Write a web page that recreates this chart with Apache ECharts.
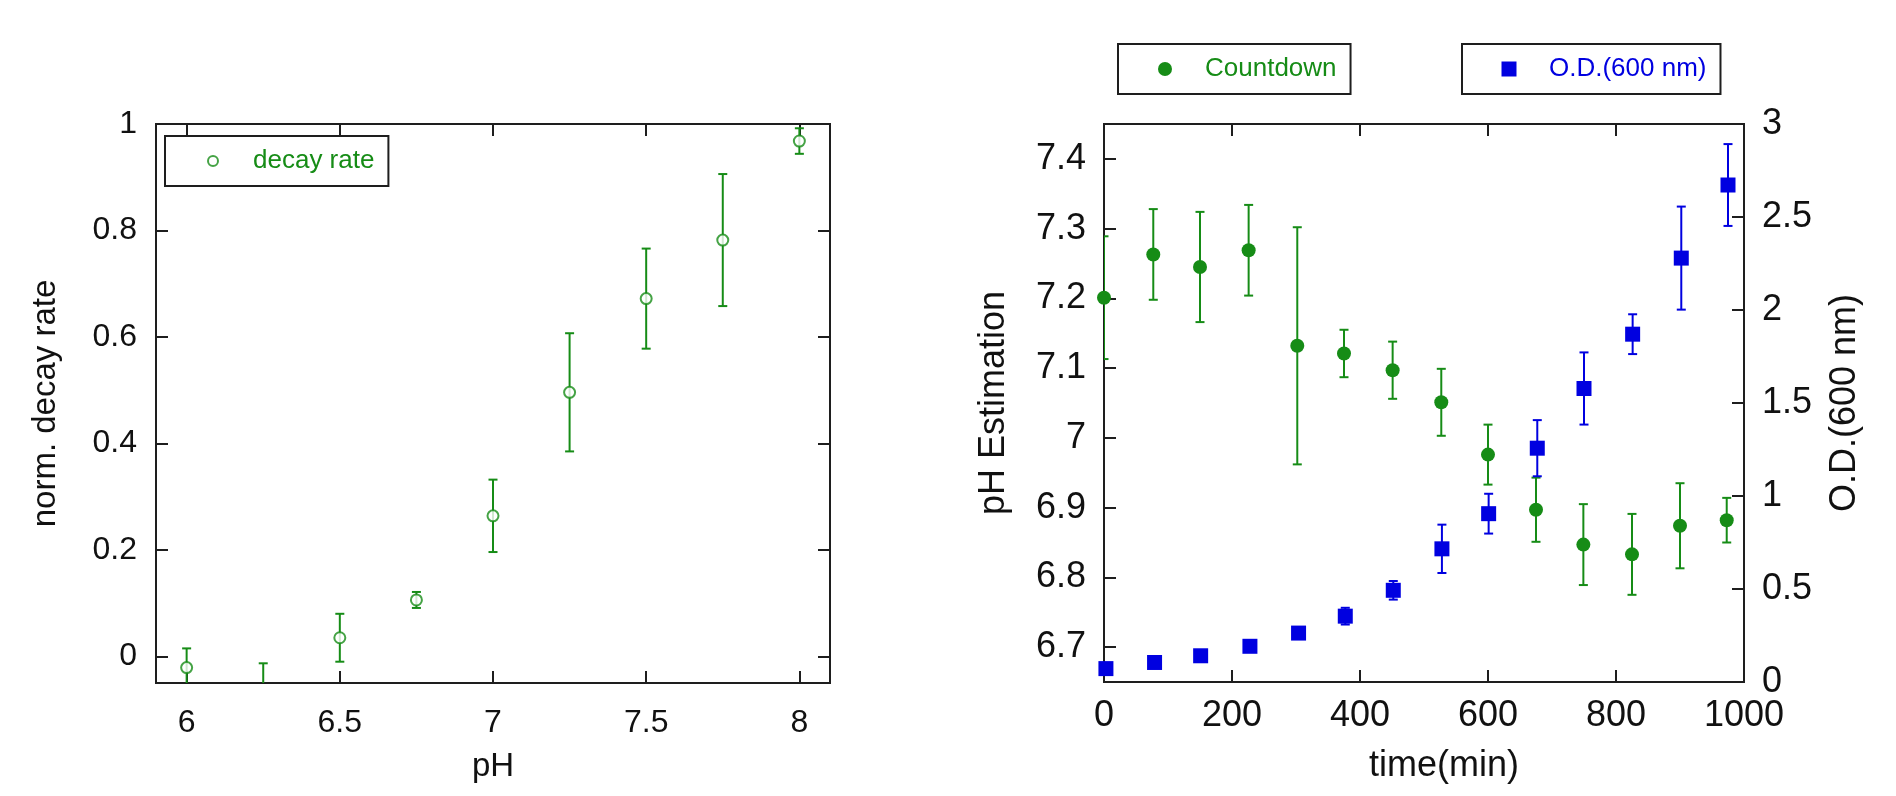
<!DOCTYPE html>
<html><head><meta charset="utf-8">
<script src="https://cdn.jsdelivr.net/npm/echarts@6/dist/echarts.min.js"></script>
<style>html,body{margin:0;padding:0;background:#fff}#c{width:1896px;height:796px}</style>
</head><body><div id="c"></div>
<script>
// ---- data ----
const phValues = [6, 6.25, 6.5, 6.75, 7, 7.25, 7.5, 7.75, 8];
const decayRate = [-0.021, -0.065, 0.035, 0.106, 0.264, 0.496, 0.672, 0.782, 0.968];
const decayErr = [0.036, 0.052, 0.045, 0.015, 0.068, 0.111, 0.094, 0.124, 0.024];

const countdownTime = [0, 77, 150, 226, 302, 375, 451, 527, 600, 675, 749, 825, 900, 973];
const countdownPH = [7.201, 7.263, 7.245, 7.269, 7.132, 7.121, 7.097, 7.051, 6.976, 6.897, 6.847, 6.833, 6.874, 6.882];
const countdownErr = [0.088, 0.065, 0.079, 0.065, 0.170, 0.034, 0.041, 0.048, 0.043, 0.046, 0.058, 0.058, 0.061, 0.032];

const odTime = [3, 79, 151, 228, 304, 377, 452, 528, 601, 677, 750, 826, 902, 975];
const odValue = [0.072, 0.105, 0.141, 0.192, 0.263, 0.354, 0.493, 0.716, 0.905, 1.257, 1.578, 1.870, 2.279, 2.672];
const odErr = [0.025, 0.025, 0.03, 0.03, 0.03, 0.045, 0.05, 0.13, 0.107, 0.151, 0.194, 0.107, 0.277, 0.22];

const phTicks = [6, 6.5, 7, 7.5, 8];
const decayTicks = [0, 0.2, 0.4, 0.6, 0.8, 1];
const timeTicks = [0, 200, 400, 600, 800, 1000];
const phEstTicks = [6.7, 6.8, 6.9, 7, 7.1, 7.2, 7.3, 7.4];
const odTicks = [0, 0.5, 1, 1.5, 2, 2.5, 3];

// ---- styles ----
const GREEN = '#168c16';
const BLUE = '#0000e0';
const INK = '#1e1e1e';
const FONT = '"Liberation Sans", Arial, sans-serif';
// legend icons: invisible move-to corners span the full 70px icon box so the mark sits centred in it
const OPEN_CIRCLE_ICON = 'path://M0,0M70,12M35,1A5,5,0,1,1,35,11A5,5,0,1,1,35,1Z';
const DOT_ICON = 'path://M0,0M70,14M35,0A7,7,0,1,1,35,14A7,7,0,1,1,35,0Z';
const SQUARE_ICON = 'path://M0,0M70,15M27.5,0H42.5V15H27.5Z';

function errorSeries(name, xs, ys, es, xi, yi, color) {
  return {
    type: 'custom', name: name, xAxisIndex: xi, yAxisIndex: yi, clip: true,
    itemStyle: { color: color }, silent: true,
    encode: { x: 0, y: 1 },
    data: xs.map((x, i) => [x, ys[i], es[i]]),
    renderItem: function (params, api) {
      const x = api.value(0), y = api.value(1), e = api.value(2);
      const top = api.coord([x, y + e]);
      const bot = api.coord([x, y - e]);
      const cap = 4.5;
      const style = { stroke: color, lineWidth: 2, fill: null };
      return { type: 'group', children: [
        { type: 'line', shape: { x1: top[0], y1: top[1], x2: bot[0], y2: bot[1] }, style: style },
        { type: 'line', shape: { x1: top[0] - cap, y1: top[1], x2: top[0] + cap, y2: top[1] }, style: style },
        { type: 'line', shape: { x1: bot[0] - cap, y1: bot[1], x2: bot[0] + cap, y2: bot[1] }, style: style }
      ]};
    }
  };
}

function tickStyle(vals) {
  return { show: true, inside: true, length: 12, lineStyle: { color: INK, width: 2 }, customValues: vals };
}
function labelStyle(vals, size, margin) {
  return { show: true, customValues: vals, fontSize: size, color: '#111', fontFamily: FONT, margin: margin,
           formatter: function (v) { return String(v); } };
}
const noLine = { show: false, onZero: false };
function legendBox(name, icon, left, top, h, color, itemStyle) {
  return { data: [{ name: name, icon: icon, itemStyle: itemStyle }], left: left, top: top,
    padding: [12, 14, 12, 12], itemWidth: 70, itemHeight: h, itemGap: 0, symbolKeepAspect: false,
    borderColor: INK, borderWidth: 2, borderRadius: 0, selectedMode: false,
    textStyle: { fontSize: 26, color: color, fontFamily: FONT } };
}

const chart = echarts.init(document.getElementById('c'));
chart.setOption({
  animation: false,
  backgroundColor: '#fff',
  grid: [
    { left: 156, top: 124, width: 674, height: 559, show: true, borderColor: INK, borderWidth: 2, backgroundColor: 'transparent', outerBoundsMode: 'none' },
    { left: 1104, top: 124, width: 640, height: 558, show: true, borderColor: INK, borderWidth: 2, backgroundColor: 'transparent', outerBoundsMode: 'none' }
  ],
  xAxis: [
    { gridIndex: 0, type: 'value', min: 5.9, max: 8.1, position: 'bottom', axisLine: noLine,
      axisTick: tickStyle(phTicks), axisLabel: labelStyle(phTicks, 32, 24), splitLine: { show: false },
      name: 'pH', nameLocation: 'middle', nameGap: 67, nameMoveOverlap: false,
      nameTextStyle: { fontSize: 33, color: '#111', fontFamily: FONT } },
    { gridIndex: 0, type: 'value', min: 5.9, max: 8.1, position: 'top', axisLine: noLine,
      axisTick: tickStyle(phTicks), axisLabel: { show: false }, splitLine: { show: false } },
    { gridIndex: 1, type: 'value', min: 0, max: 1000, position: 'bottom', axisLine: noLine,
      axisTick: tickStyle(timeTicks), axisLabel: labelStyle(timeTicks, 36, 16), splitLine: { show: false },
      name: 'time(min)', nameLocation: 'middle', nameGap: 66, nameMoveOverlap: false,
      nameTextStyle: { fontSize: 36, color: '#111', fontFamily: FONT, padding: [0, 0, 0, 40] } },
    { gridIndex: 1, type: 'value', min: 0, max: 1000, position: 'top', axisLine: noLine,
      axisTick: tickStyle(timeTicks), axisLabel: { show: false }, splitLine: { show: false } }
  ],
  yAxis: [
    { gridIndex: 0, type: 'value', min: -0.05, max: 1, position: 'left', axisLine: noLine,
      axisTick: tickStyle(decayTicks), axisLabel: labelStyle(decayTicks, 32, 19), splitLine: { show: false },
      name: 'norm. decay rate', nameLocation: 'middle', nameGap: 94, nameRotate: 90, nameMoveOverlap: false,
      nameTextStyle: { fontSize: 33, color: '#111', fontFamily: FONT } },
    { gridIndex: 0, type: 'value', min: -0.05, max: 1, position: 'right', axisLine: noLine,
      axisTick: tickStyle(decayTicks), axisLabel: { show: false }, splitLine: { show: false } },
    { gridIndex: 1, type: 'value', min: 6.65, max: 7.45, position: 'left', axisLine: noLine,
      axisTick: tickStyle(phEstTicks), axisLabel: labelStyle(phEstTicks, 36, 18), splitLine: { show: false },
      name: 'pH Estimation', nameLocation: 'middle', nameGap: 92, nameRotate: 90, nameMoveOverlap: false,
      nameTextStyle: { fontSize: 36, color: '#111', fontFamily: FONT } },
    { gridIndex: 1, type: 'value', min: 0, max: 3, position: 'right', axisLine: noLine,
      axisTick: tickStyle(odTicks), axisLabel: labelStyle(odTicks, 36, 18), splitLine: { show: false },
      name: 'O.D.(600 nm)', nameLocation: 'middle', nameGap: 83, nameRotate: 90, nameMoveOverlap: false,
      nameTextStyle: { fontSize: 36, color: '#111', fontFamily: FONT } }
  ],
  legend: [
    legendBox('decay rate', OPEN_CIRCLE_ICON, 165, 136, 12, GREEN, { color: '#fff', borderColor: GREEN, borderWidth: 2 }),
    legendBox('Countdown', DOT_ICON, 1118, 44, 14, GREEN, { color: GREEN, borderWidth: 0 }),
    legendBox('O.D.(600 nm)', SQUARE_ICON, 1462, 44, 15, BLUE, { color: BLUE, borderWidth: 0 })
  ],
  series: [
    errorSeries('decay err', phValues, decayRate, decayErr, 0, 0, GREEN),
    { type: 'scatter', name: 'decay rate', xAxisIndex: 0, yAxisIndex: 0, symbol: 'emptyCircle', symbolSize: 11,
      itemStyle: { color: GREEN, borderColor: GREEN, borderWidth: 2 },
      data: phValues.map((x, i) => [x, decayRate[i]]) },
    errorSeries('countdown err', countdownTime, countdownPH, countdownErr, 2, 2, GREEN),
    { type: 'scatter', name: 'Countdown', xAxisIndex: 2, yAxisIndex: 2, symbol: 'circle', symbolSize: 14,
      itemStyle: { color: GREEN, opacity: 1 },
      data: countdownTime.map((x, i) => [x, countdownPH[i]]) },
    errorSeries('od err', odTime, odValue, odErr, 2, 3, BLUE),
    { type: 'scatter', name: 'O.D.(600 nm)', xAxisIndex: 2, yAxisIndex: 3, symbol: 'rect', symbolSize: 15,
      itemStyle: { color: BLUE, opacity: 1 },
      data: odTime.map((x, i) => [x, odValue[i]]) }
  ]
});
</script>
</body></html>
